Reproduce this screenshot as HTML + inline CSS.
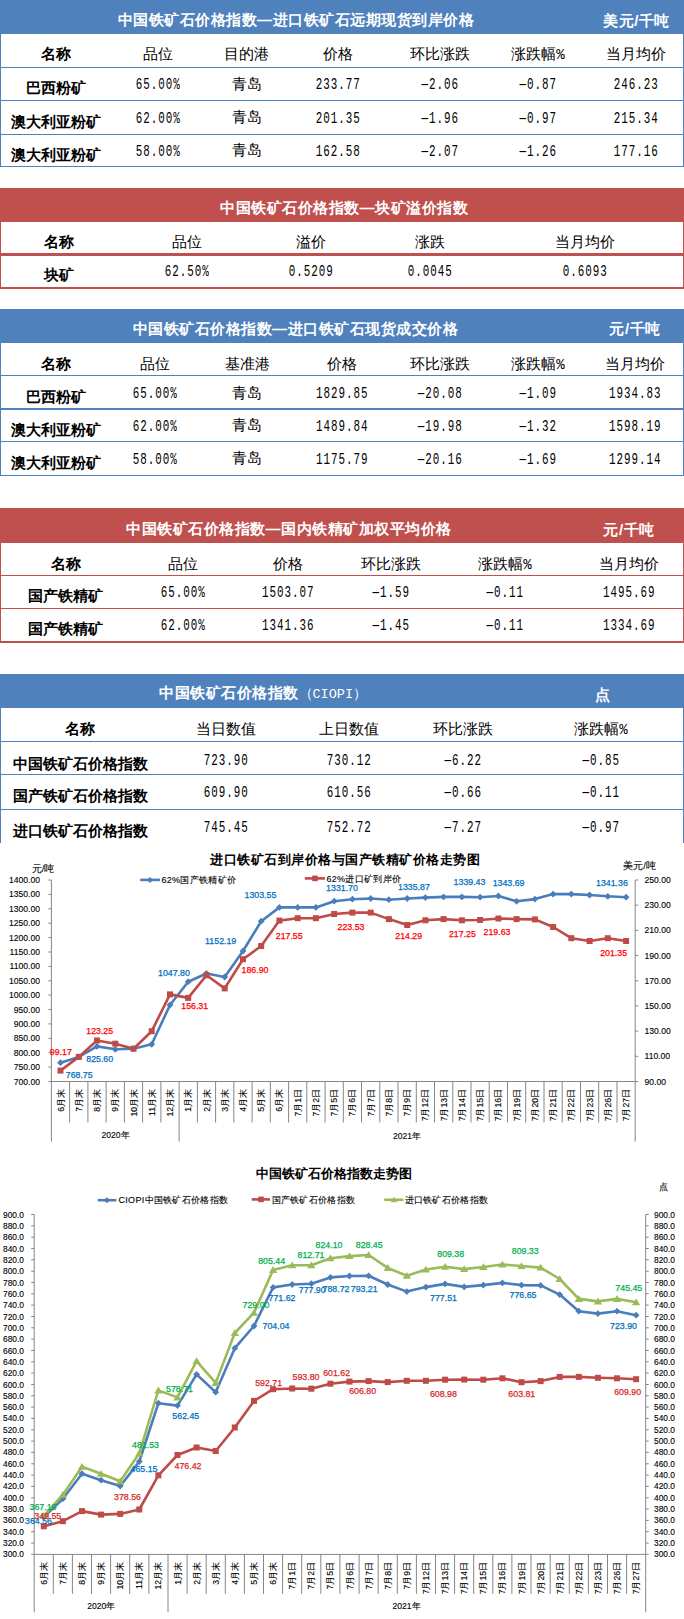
<!DOCTYPE html>
<html><head><meta charset="utf-8"><title>铁矿石价格指数</title>
<style>
html,body{margin:0;padding:0;background:#fff;}
body{width:684px;height:1619px;position:relative;overflow:hidden;font-family:"Liberation Sans",sans-serif;}
.r{position:absolute;}
.t{position:absolute;white-space:nowrap;transform:translate(-50%,-50%);line-height:1;color:#000;}
.tt{font-size:15px;letter-spacing:0.5px;font-weight:bold;color:#fff;font-family:"Liberation Sans",sans-serif;}
.nm{font-size:15px;font-weight:bold;font-family:"Liberation Serif",serif;}
.hd{font-size:15px;font-family:"Liberation Serif",serif;}
.pc{font-family:"Liberation Mono",monospace;font-size:14px;}
.ci{font-weight:normal;letter-spacing:0;}
.ci{font-family:"Liberation Mono",monospace;font-size:13.5px;}
.num{font-size:16.5px;letter-spacing:1.45px;text-indent:0.7px;transform:translate(-50%,-50%) scaleX(0.66);font-family:"Liberation Mono",monospace;}
svg{position:absolute;left:0;top:0;}
svg text{font-family:"Liberation Sans",sans-serif;}
</style></head><body>
<div class="r" style="left:0px;top:0px;width:684px;height:34px;background:#4f81bd"></div>
<div class="t tt" style="left:117.5px;top:19.0px;transform:translate(0,-50%)">中国铁矿石价格指数—进口铁矿石远期现货到岸价格</div>
<div class="t tt" style="left:636.5px;top:19.5px;">美元/千吨</div>
<div class="r" style="left:0px;top:67px;width:684px;height:1px;background:#4f81bd"></div>
<div class="r" style="left:0px;top:100px;width:684px;height:1px;background:#4f81bd"></div>
<div class="r" style="left:0px;top:134px;width:684px;height:1px;background:#4f81bd"></div>
<div class="r" style="left:0px;top:166px;width:684px;height:1px;background:#4f81bd"></div>
<div class="r" style="left:0px;top:34px;width:1px;height:133px;background:#4f81bd"></div>
<div class="r" style="left:683px;top:34px;width:1px;height:133px;background:#4f81bd"></div>
<div class="t nm" style="left:56px;top:54.0px;">名称</div>
<div class="t hd" style="left:157.5px;top:54.0px;">品位</div>
<div class="t hd" style="left:246.5px;top:54.0px;">目的港</div>
<div class="t hd" style="left:338px;top:54.0px;">价格</div>
<div class="t hd" style="left:440px;top:54.0px;">环比涨跌</div>
<div class="t hd" style="left:538px;top:54.0px;">涨跌幅<span class="pc">%</span></div>
<div class="t hd" style="left:635.5px;top:54.0px;">当月均价</div>
<div class="t nm" style="left:56px;top:88.0px;">巴西粉矿</div>
<div class="t num" style="left:157.5px;top:85.2px;">65.00%</div>
<div class="t hd" style="left:246.5px;top:83.5px;">青岛</div>
<div class="t num" style="left:338px;top:85.2px;">233.77</div>
<div class="t num" style="left:440px;top:85.2px;">—2.06</div>
<div class="t num" style="left:538px;top:85.2px;">—0.87</div>
<div class="t num" style="left:635.5px;top:85.2px;">246.23</div>
<div class="t nm" style="left:56px;top:121.5px;">澳大利亚粉矿</div>
<div class="t num" style="left:157.5px;top:118.7px;">62.00%</div>
<div class="t hd" style="left:246.5px;top:117.0px;">青岛</div>
<div class="t num" style="left:338px;top:118.7px;">201.35</div>
<div class="t num" style="left:440px;top:118.7px;">—1.96</div>
<div class="t num" style="left:538px;top:118.7px;">—0.97</div>
<div class="t num" style="left:635.5px;top:118.7px;">215.34</div>
<div class="t nm" style="left:56px;top:154.5px;">澳大利亚粉矿</div>
<div class="t num" style="left:157.5px;top:151.7px;">58.00%</div>
<div class="t hd" style="left:246.5px;top:150.0px;">青岛</div>
<div class="t num" style="left:338px;top:151.7px;">162.58</div>
<div class="t num" style="left:440px;top:151.7px;">—2.07</div>
<div class="t num" style="left:538px;top:151.7px;">—1.26</div>
<div class="t num" style="left:635.5px;top:151.7px;">177.16</div>
<div class="r" style="left:0px;top:188px;width:684px;height:33.5px;background:#c0504d"></div>
<div class="t tt" style="left:220px;top:206.75px;transform:translate(0,-50%)">中国铁矿石价格指数—块矿溢价指数</div>
<div class="r" style="left:0px;top:221px;width:684px;height:1px;background:#c0504d"></div>
<div class="r" style="left:0px;top:253px;width:684px;height:3px;background:#c0504d"></div>
<div class="r" style="left:0px;top:287px;width:684px;height:2px;background:#c0504d"></div>
<div class="r" style="left:0px;top:221.5px;width:1px;height:67.5px;background:#c0504d"></div>
<div class="r" style="left:683px;top:221.5px;width:1px;height:67.5px;background:#c0504d"></div>
<div class="t nm" style="left:59px;top:242.0px;">名称</div>
<div class="t hd" style="left:186.5px;top:242.0px;">品位</div>
<div class="t hd" style="left:311px;top:242.0px;">溢价</div>
<div class="t hd" style="left:429.5px;top:242.0px;">涨跌</div>
<div class="t hd" style="left:585px;top:242.0px;">当月均价</div>
<div class="t nm" style="left:59px;top:275.0px;">块矿</div>
<div class="t num" style="left:186.5px;top:272.2px;">62.50%</div>
<div class="t num" style="left:311px;top:272.2px;">0.5209</div>
<div class="t num" style="left:429.5px;top:272.2px;">0.0045</div>
<div class="t num" style="left:585px;top:272.2px;">0.6093</div>
<div class="r" style="left:0px;top:309px;width:684px;height:33.5px;background:#4f81bd"></div>
<div class="t tt" style="left:132.5px;top:327.75px;transform:translate(0,-50%)">中国铁矿石价格指数—进口铁矿石现货成交价格</div>
<div class="t tt" style="left:635px;top:328.25px;">元/千吨</div>
<div class="r" style="left:0px;top:375px;width:684px;height:1px;background:#4f81bd"></div>
<div class="r" style="left:0px;top:408px;width:684px;height:2px;background:#4f81bd"></div>
<div class="r" style="left:0px;top:441px;width:684px;height:1px;background:#4f81bd"></div>
<div class="r" style="left:0px;top:475px;width:684px;height:1px;background:#4f81bd"></div>
<div class="r" style="left:0px;top:342.5px;width:1px;height:133.5px;background:#4f81bd"></div>
<div class="r" style="left:683px;top:342.5px;width:1px;height:133.5px;background:#4f81bd"></div>
<div class="t nm" style="left:56px;top:364.0px;">名称</div>
<div class="t hd" style="left:154.5px;top:364.0px;">品位</div>
<div class="t hd" style="left:247px;top:364.0px;">基准港</div>
<div class="t hd" style="left:342px;top:364.0px;">价格</div>
<div class="t hd" style="left:440px;top:364.0px;">环比涨跌</div>
<div class="t hd" style="left:538px;top:364.0px;">涨跌幅<span class="pc">%</span></div>
<div class="t hd" style="left:634.5px;top:364.0px;">当月均价</div>
<div class="t nm" style="left:56px;top:397.0px;">巴西粉矿</div>
<div class="t num" style="left:154.5px;top:394.2px;">65.00%</div>
<div class="t hd" style="left:247px;top:392.5px;">青岛</div>
<div class="t num" style="left:342px;top:394.2px;">1829.85</div>
<div class="t num" style="left:440px;top:394.2px;">—20.08</div>
<div class="t num" style="left:538px;top:394.2px;">—1.09</div>
<div class="t num" style="left:634.5px;top:394.2px;">1934.83</div>
<div class="t nm" style="left:56px;top:429.5px;">澳大利亚粉矿</div>
<div class="t num" style="left:154.5px;top:426.7px;">62.00%</div>
<div class="t hd" style="left:247px;top:425.0px;">青岛</div>
<div class="t num" style="left:342px;top:426.7px;">1489.84</div>
<div class="t num" style="left:440px;top:426.7px;">—19.98</div>
<div class="t num" style="left:538px;top:426.7px;">—1.32</div>
<div class="t num" style="left:634.5px;top:426.7px;">1598.19</div>
<div class="t nm" style="left:56px;top:462.5px;">澳大利亚粉矿</div>
<div class="t num" style="left:154.5px;top:459.7px;">58.00%</div>
<div class="t hd" style="left:247px;top:458.0px;">青岛</div>
<div class="t num" style="left:342px;top:459.7px;">1175.79</div>
<div class="t num" style="left:440px;top:459.7px;">—20.16</div>
<div class="t num" style="left:538px;top:459.7px;">—1.69</div>
<div class="t num" style="left:634.5px;top:459.7px;">1299.14</div>
<div class="r" style="left:0px;top:508px;width:684px;height:34.5px;background:#c0504d"></div>
<div class="t tt" style="left:126px;top:528.45px;transform:translate(0,-50%)">中国铁矿石价格指数—国内铁精矿加权平均价格</div>
<div class="t tt" style="left:629px;top:528.95px;">元/千吨</div>
<div class="r" style="left:0px;top:575px;width:684px;height:1px;background:#c0504d"></div>
<div class="r" style="left:0px;top:608px;width:684px;height:1px;background:#c0504d"></div>
<div class="r" style="left:0px;top:641px;width:684px;height:1.5px;background:#c0504d"></div>
<div class="r" style="left:0px;top:542.5px;width:1px;height:99.5px;background:#c0504d"></div>
<div class="r" style="left:683px;top:542.5px;width:1px;height:99.5px;background:#c0504d"></div>
<div class="t nm" style="left:65.5px;top:564.0px;">名称</div>
<div class="t hd" style="left:182.5px;top:564.0px;">品位</div>
<div class="t hd" style="left:287.5px;top:564.0px;">价格</div>
<div class="t hd" style="left:391px;top:564.0px;">环比涨跌</div>
<div class="t hd" style="left:505px;top:564.0px;">涨跌幅<span class="pc">%</span></div>
<div class="t hd" style="left:628.5px;top:564.0px;">当月均价</div>
<div class="t nm" style="left:65.5px;top:596.0px;">国产铁精矿</div>
<div class="t num" style="left:182.5px;top:593.2px;">65.00%</div>
<div class="t num" style="left:287.5px;top:593.2px;">1503.07</div>
<div class="t num" style="left:391px;top:593.2px;">—1.59</div>
<div class="t num" style="left:505px;top:593.2px;">—0.11</div>
<div class="t num" style="left:628.5px;top:593.2px;">1495.69</div>
<div class="t nm" style="left:65.5px;top:628.5px;">国产铁精矿</div>
<div class="t num" style="left:182.5px;top:625.7px;">62.00%</div>
<div class="t num" style="left:287.5px;top:625.7px;">1341.36</div>
<div class="t num" style="left:391px;top:625.7px;">—1.45</div>
<div class="t num" style="left:505px;top:625.7px;">—0.11</div>
<div class="t num" style="left:628.5px;top:625.7px;">1334.69</div>
<div class="r" style="left:0px;top:674px;width:684px;height:34px;background:#4f81bd"></div>
<div class="t tt" style="left:159px;top:693.0px;transform:translate(0,-50%)">中国铁矿石价格指数<span class="ci">（CIOPI）</span></div>
<div class="t tt" style="left:602.7px;top:693.5px;">点</div>
<div class="r" style="left:0px;top:741px;width:684px;height:1px;background:#4f81bd"></div>
<div class="r" style="left:0px;top:774px;width:684px;height:1px;background:#4f81bd"></div>
<div class="r" style="left:0px;top:809px;width:684px;height:1px;background:#4f81bd"></div>
<div class="r" style="left:0px;top:708px;width:1px;height:135px;background:#4f81bd"></div>
<div class="r" style="left:683px;top:708px;width:1px;height:135px;background:#4f81bd"></div>
<div class="t nm" style="left:80px;top:729.0px;">名称</div>
<div class="t hd" style="left:225.5px;top:729.0px;">当日数值</div>
<div class="t hd" style="left:349px;top:729.0px;">上日数值</div>
<div class="t hd" style="left:462.5px;top:729.0px;">环比涨跌</div>
<div class="t hd" style="left:601px;top:729.0px;">涨跌幅<span class="pc">%</span></div>
<div class="t nm" style="left:80px;top:763.5px;">中国铁矿石价格指数</div>
<div class="t num" style="left:225.5px;top:760.7px;">723.90</div>
<div class="t num" style="left:349px;top:760.7px;">730.12</div>
<div class="t num" style="left:462.5px;top:760.7px;">—6.22</div>
<div class="t num" style="left:601px;top:760.7px;">—0.85</div>
<div class="t nm" style="left:80px;top:796.0px;">国产铁矿石价格指数</div>
<div class="t num" style="left:225.5px;top:793.2px;">609.90</div>
<div class="t num" style="left:349px;top:793.2px;">610.56</div>
<div class="t num" style="left:462.5px;top:793.2px;">—0.66</div>
<div class="t num" style="left:601px;top:793.2px;">—0.11</div>
<div class="t nm" style="left:80px;top:830.5px;">进口铁矿石价格指数</div>
<div class="t num" style="left:225.5px;top:827.7px;">745.45</div>
<div class="t num" style="left:349px;top:827.7px;">752.72</div>
<div class="t num" style="left:462.5px;top:827.7px;">—7.27</div>
<div class="t num" style="left:601px;top:827.7px;">—0.97</div>
<svg width="684" height="1619" viewBox="0 0 684 1619">
<path d="M51.4 880.0V1081.5M635.2 880.0V1081.5M51.4 1081.5H635.2" stroke="#868686" stroke-width="1" fill="none"/>
<path d="M48.4 1081.5H51.4M48.4 1067.1H51.4M48.4 1052.7H51.4M48.4 1038.3H51.4M48.4 1023.9H51.4M48.4 1009.5H51.4M48.4 995.1H51.4M48.4 980.8H51.4M48.4 966.4H51.4M48.4 952.0H51.4M48.4 937.6H51.4M48.4 923.2H51.4M48.4 908.8H51.4M48.4 894.4H51.4M48.4 880.0H51.4M635.2 1081.5H638.2M635.2 1056.3H638.2M635.2 1031.1H638.2M635.2 1005.9H638.2M635.2 980.8H638.2M635.2 955.6H638.2M635.2 930.4H638.2M635.2 905.2H638.2M635.2 880.0H638.2M51.4 1081.5V1141.6M69.6 1081.5V1122.5M87.9 1081.5V1122.5M106.1 1081.5V1122.5M124.4 1081.5V1122.5M142.6 1081.5V1122.5M160.9 1081.5V1122.5M179.1 1081.5V1141.6M197.4 1081.5V1122.5M215.6 1081.5V1122.5M233.8 1081.5V1122.5M252.1 1081.5V1122.5M270.3 1081.5V1122.5M288.6 1081.5V1122.5M306.8 1081.5V1122.5M325.1 1081.5V1122.5M343.3 1081.5V1122.5M361.5 1081.5V1122.5M379.8 1081.5V1122.5M398.0 1081.5V1122.5M416.3 1081.5V1122.5M434.5 1081.5V1122.5M452.8 1081.5V1122.5M471.0 1081.5V1122.5M489.2 1081.5V1122.5M507.5 1081.5V1122.5M525.7 1081.5V1122.5M544.0 1081.5V1122.5M562.2 1081.5V1122.5M580.5 1081.5V1122.5M598.7 1081.5V1122.5M617.0 1081.5V1122.5M635.2 1081.5V1141.6" stroke="#868686" stroke-width="1" fill="none"/>
<text x="40.0" y="1084.5" font-size="8.6" fill="#000" text-anchor="end" font-weight="normal"  stroke="#000" stroke-width="0.12">700.00</text>
<text x="40.0" y="1070.1" font-size="8.6" fill="#000" text-anchor="end" font-weight="normal"  stroke="#000" stroke-width="0.12">750.00</text>
<text x="40.0" y="1055.7" font-size="8.6" fill="#000" text-anchor="end" font-weight="normal"  stroke="#000" stroke-width="0.12">800.00</text>
<text x="40.0" y="1041.3" font-size="8.6" fill="#000" text-anchor="end" font-weight="normal"  stroke="#000" stroke-width="0.12">850.00</text>
<text x="40.0" y="1026.9" font-size="8.6" fill="#000" text-anchor="end" font-weight="normal"  stroke="#000" stroke-width="0.12">900.00</text>
<text x="40.0" y="1012.5" font-size="8.6" fill="#000" text-anchor="end" font-weight="normal"  stroke="#000" stroke-width="0.12">950.00</text>
<text x="40.0" y="998.1" font-size="8.6" fill="#000" text-anchor="end" font-weight="normal"  stroke="#000" stroke-width="0.12">1000.00</text>
<text x="40.0" y="983.8" font-size="8.6" fill="#000" text-anchor="end" font-weight="normal"  stroke="#000" stroke-width="0.12">1050.00</text>
<text x="40.0" y="969.4" font-size="8.6" fill="#000" text-anchor="end" font-weight="normal"  stroke="#000" stroke-width="0.12">1100.00</text>
<text x="40.0" y="955.0" font-size="8.6" fill="#000" text-anchor="end" font-weight="normal"  stroke="#000" stroke-width="0.12">1150.00</text>
<text x="40.0" y="940.6" font-size="8.6" fill="#000" text-anchor="end" font-weight="normal"  stroke="#000" stroke-width="0.12">1200.00</text>
<text x="40.0" y="926.2" font-size="8.6" fill="#000" text-anchor="end" font-weight="normal"  stroke="#000" stroke-width="0.12">1250.00</text>
<text x="40.0" y="911.8" font-size="8.6" fill="#000" text-anchor="end" font-weight="normal"  stroke="#000" stroke-width="0.12">1300.00</text>
<text x="40.0" y="897.4" font-size="8.6" fill="#000" text-anchor="end" font-weight="normal"  stroke="#000" stroke-width="0.12">1350.00</text>
<text x="40.0" y="883.0" font-size="8.6" fill="#000" text-anchor="end" font-weight="normal"  stroke="#000" stroke-width="0.12">1400.00</text>
<text x="644.5" y="1084.5" font-size="8.6" fill="#000" text-anchor="start" font-weight="normal"  stroke="#000" stroke-width="0.12">90.00</text>
<text x="644.5" y="1059.3" font-size="8.6" fill="#000" text-anchor="start" font-weight="normal"  stroke="#000" stroke-width="0.12">110.00</text>
<text x="644.5" y="1034.1" font-size="8.6" fill="#000" text-anchor="start" font-weight="normal"  stroke="#000" stroke-width="0.12">130.00</text>
<text x="644.5" y="1008.9" font-size="8.6" fill="#000" text-anchor="start" font-weight="normal"  stroke="#000" stroke-width="0.12">150.00</text>
<text x="644.5" y="983.8" font-size="8.6" fill="#000" text-anchor="start" font-weight="normal"  stroke="#000" stroke-width="0.12">170.00</text>
<text x="644.5" y="958.6" font-size="8.6" fill="#000" text-anchor="start" font-weight="normal"  stroke="#000" stroke-width="0.12">190.00</text>
<text x="644.5" y="933.4" font-size="8.6" fill="#000" text-anchor="start" font-weight="normal"  stroke="#000" stroke-width="0.12">210.00</text>
<text x="644.5" y="908.2" font-size="8.6" fill="#000" text-anchor="start" font-weight="normal"  stroke="#000" stroke-width="0.12">230.00</text>
<text x="644.5" y="883.0" font-size="8.6" fill="#000" text-anchor="start" font-weight="normal"  stroke="#000" stroke-width="0.12">250.00</text>
<text transform="translate(63.5,1089.0) rotate(-90)" font-size="8.6" text-anchor="end" stroke="#000" stroke-width="0.12">6月末</text>
<text transform="translate(81.8,1089.0) rotate(-90)" font-size="8.6" text-anchor="end" stroke="#000" stroke-width="0.12">7月末</text>
<text transform="translate(100.0,1089.0) rotate(-90)" font-size="8.6" text-anchor="end" stroke="#000" stroke-width="0.12">8月末</text>
<text transform="translate(118.3,1089.0) rotate(-90)" font-size="8.6" text-anchor="end" stroke="#000" stroke-width="0.12">9月末</text>
<text transform="translate(136.5,1089.0) rotate(-90)" font-size="8.6" text-anchor="end" stroke="#000" stroke-width="0.12">10月末</text>
<text transform="translate(154.7,1089.0) rotate(-90)" font-size="8.6" text-anchor="end" stroke="#000" stroke-width="0.12">11月末</text>
<text transform="translate(173.0,1089.0) rotate(-90)" font-size="8.6" text-anchor="end" stroke="#000" stroke-width="0.12">12月末</text>
<text transform="translate(191.2,1089.0) rotate(-90)" font-size="8.6" text-anchor="end" stroke="#000" stroke-width="0.12">1月末</text>
<text transform="translate(209.5,1089.0) rotate(-90)" font-size="8.6" text-anchor="end" stroke="#000" stroke-width="0.12">2月末</text>
<text transform="translate(227.7,1089.0) rotate(-90)" font-size="8.6" text-anchor="end" stroke="#000" stroke-width="0.12">3月末</text>
<text transform="translate(246.0,1089.0) rotate(-90)" font-size="8.6" text-anchor="end" stroke="#000" stroke-width="0.12">4月末</text>
<text transform="translate(264.2,1089.0) rotate(-90)" font-size="8.6" text-anchor="end" stroke="#000" stroke-width="0.12">5月末</text>
<text transform="translate(282.4,1089.0) rotate(-90)" font-size="8.6" text-anchor="end" stroke="#000" stroke-width="0.12">6月末</text>
<text transform="translate(300.7,1089.0) rotate(-90)" font-size="8.6" text-anchor="end" stroke="#000" stroke-width="0.12">7月1日</text>
<text transform="translate(318.9,1089.0) rotate(-90)" font-size="8.6" text-anchor="end" stroke="#000" stroke-width="0.12">7月2日</text>
<text transform="translate(337.2,1089.0) rotate(-90)" font-size="8.6" text-anchor="end" stroke="#000" stroke-width="0.12">7月5日</text>
<text transform="translate(355.4,1089.0) rotate(-90)" font-size="8.6" text-anchor="end" stroke="#000" stroke-width="0.12">7月6日</text>
<text transform="translate(373.7,1089.0) rotate(-90)" font-size="8.6" text-anchor="end" stroke="#000" stroke-width="0.12">7月7日</text>
<text transform="translate(391.9,1089.0) rotate(-90)" font-size="8.6" text-anchor="end" stroke="#000" stroke-width="0.12">7月8日</text>
<text transform="translate(410.2,1089.0) rotate(-90)" font-size="8.6" text-anchor="end" stroke="#000" stroke-width="0.12">7月9日</text>
<text transform="translate(428.4,1089.0) rotate(-90)" font-size="8.6" text-anchor="end" stroke="#000" stroke-width="0.12">7月12日</text>
<text transform="translate(446.6,1089.0) rotate(-90)" font-size="8.6" text-anchor="end" stroke="#000" stroke-width="0.12">7月13日</text>
<text transform="translate(464.9,1089.0) rotate(-90)" font-size="8.6" text-anchor="end" stroke="#000" stroke-width="0.12">7月14日</text>
<text transform="translate(483.1,1089.0) rotate(-90)" font-size="8.6" text-anchor="end" stroke="#000" stroke-width="0.12">7月15日</text>
<text transform="translate(501.4,1089.0) rotate(-90)" font-size="8.6" text-anchor="end" stroke="#000" stroke-width="0.12">7月16日</text>
<text transform="translate(519.6,1089.0) rotate(-90)" font-size="8.6" text-anchor="end" stroke="#000" stroke-width="0.12">7月19日</text>
<text transform="translate(537.9,1089.0) rotate(-90)" font-size="8.6" text-anchor="end" stroke="#000" stroke-width="0.12">7月20日</text>
<text transform="translate(556.1,1089.0) rotate(-90)" font-size="8.6" text-anchor="end" stroke="#000" stroke-width="0.12">7月21日</text>
<text transform="translate(574.3,1089.0) rotate(-90)" font-size="8.6" text-anchor="end" stroke="#000" stroke-width="0.12">7月22日</text>
<text transform="translate(592.6,1089.0) rotate(-90)" font-size="8.6" text-anchor="end" stroke="#000" stroke-width="0.12">7月23日</text>
<text transform="translate(610.8,1089.0) rotate(-90)" font-size="8.6" text-anchor="end" stroke="#000" stroke-width="0.12">7月26日</text>
<text transform="translate(629.1,1089.0) rotate(-90)" font-size="8.6" text-anchor="end" stroke="#000" stroke-width="0.12">7月27日</text>
<text x="115.5" y="1138.0" font-size="8.6" fill="#000" text-anchor="middle" font-weight="normal"  stroke="#000" stroke-width="0.12">2020年</text>
<text x="407.0" y="1139.0" font-size="8.6" fill="#000" text-anchor="middle" font-weight="normal"  stroke="#000" stroke-width="0.12">2021年</text>
<path d="M60.5 1062.7L78.8 1056.9L97.0 1046.4L115.3 1049.3L133.5 1048.7L151.7 1044.3L170.0 1005.0L188.2 981.7L206.5 973.5L224.7 977.0L243.0 951.0L261.2 921.2L279.4 907.4L297.7 907.4L315.9 907.4L334.2 901.2L352.4 899.2L370.7 898.5L388.9 899.7L407.2 898.5L425.4 897.6L443.6 896.9L461.9 896.9L480.1 897.2L498.4 896.0L516.6 901.3L534.9 899.1L553.1 894.1L571.3 894.1L589.6 895.0L607.8 896.3L626.1 897.2" stroke="#4a7ebb" stroke-width="2.6" fill="none" stroke-linejoin="round"/>
<path d="M57.1 1062.7L60.5 1059.3L63.9 1062.7L60.5 1066.1Z" fill="#4a7ebb"/><path d="M75.4 1056.9L78.8 1053.5L82.2 1056.9L78.8 1060.3Z" fill="#4a7ebb"/><path d="M93.6 1046.4L97.0 1043.0L100.4 1046.4L97.0 1049.8Z" fill="#4a7ebb"/><path d="M111.9 1049.3L115.3 1045.9L118.7 1049.3L115.3 1052.7Z" fill="#4a7ebb"/><path d="M130.1 1048.7L133.5 1045.3L136.9 1048.7L133.5 1052.1Z" fill="#4a7ebb"/><path d="M148.3 1044.3L151.7 1040.9L155.1 1044.3L151.7 1047.7Z" fill="#4a7ebb"/><path d="M166.6 1005.0L170.0 1001.6L173.4 1005.0L170.0 1008.4Z" fill="#4a7ebb"/><path d="M184.8 981.7L188.2 978.3L191.6 981.7L188.2 985.1Z" fill="#4a7ebb"/><path d="M203.1 973.5L206.5 970.1L209.9 973.5L206.5 976.9Z" fill="#4a7ebb"/><path d="M221.3 977.0L224.7 973.6L228.1 977.0L224.7 980.4Z" fill="#4a7ebb"/><path d="M239.6 951.0L243.0 947.6L246.4 951.0L243.0 954.4Z" fill="#4a7ebb"/><path d="M257.8 921.2L261.2 917.8L264.6 921.2L261.2 924.6Z" fill="#4a7ebb"/><path d="M276.0 907.4L279.4 904.0L282.8 907.4L279.4 910.8Z" fill="#4a7ebb"/><path d="M294.3 907.4L297.7 904.0L301.1 907.4L297.7 910.8Z" fill="#4a7ebb"/><path d="M312.5 907.4L315.9 904.0L319.3 907.4L315.9 910.8Z" fill="#4a7ebb"/><path d="M330.8 901.2L334.2 897.8L337.6 901.2L334.2 904.6Z" fill="#4a7ebb"/><path d="M349.0 899.2L352.4 895.8L355.8 899.2L352.4 902.6Z" fill="#4a7ebb"/><path d="M367.3 898.5L370.7 895.1L374.1 898.5L370.7 901.9Z" fill="#4a7ebb"/><path d="M385.5 899.7L388.9 896.3L392.3 899.7L388.9 903.1Z" fill="#4a7ebb"/><path d="M403.8 898.5L407.2 895.1L410.6 898.5L407.2 901.9Z" fill="#4a7ebb"/><path d="M422.0 897.6L425.4 894.2L428.8 897.6L425.4 901.0Z" fill="#4a7ebb"/><path d="M440.2 896.9L443.6 893.5L447.0 896.9L443.6 900.3Z" fill="#4a7ebb"/><path d="M458.5 896.9L461.9 893.5L465.3 896.9L461.9 900.3Z" fill="#4a7ebb"/><path d="M476.7 897.2L480.1 893.8L483.5 897.2L480.1 900.6Z" fill="#4a7ebb"/><path d="M495.0 896.0L498.4 892.6L501.8 896.0L498.4 899.4Z" fill="#4a7ebb"/><path d="M513.2 901.3L516.6 897.9L520.0 901.3L516.6 904.7Z" fill="#4a7ebb"/><path d="M531.5 899.1L534.9 895.7L538.3 899.1L534.9 902.5Z" fill="#4a7ebb"/><path d="M549.7 894.1L553.1 890.7L556.5 894.1L553.1 897.5Z" fill="#4a7ebb"/><path d="M567.9 894.1L571.3 890.7L574.7 894.1L571.3 897.5Z" fill="#4a7ebb"/><path d="M586.2 895.0L589.6 891.6L593.0 895.0L589.6 898.4Z" fill="#4a7ebb"/><path d="M604.4 896.3L607.8 892.9L611.2 896.3L607.8 899.7Z" fill="#4a7ebb"/><path d="M622.7 897.2L626.1 893.8L629.5 897.2L626.1 900.6Z" fill="#4a7ebb"/>
<path d="M60.5 1070.6L78.8 1056.9L97.0 1040.5L115.3 1043.7L133.5 1048.7L151.7 1031.2L170.0 994.4L188.2 997.9L206.5 975.3L224.7 988.4L243.0 959.2L261.2 946.0L279.4 920.6L297.7 918.2L315.9 918.2L334.2 914.0L352.4 912.6L370.7 912.6L388.9 919.1L407.2 925.0L425.4 920.3L443.6 919.1L461.9 920.3L480.1 920.0L498.4 918.5L516.6 919.1L534.9 919.4L553.1 927.0L571.3 938.2L589.6 941.0L607.8 938.2L626.1 941.0" stroke="#be4b48" stroke-width="2.6" fill="none" stroke-linejoin="round"/>
<rect x="57.5" y="1067.6" width="6.0" height="6.0" fill="#be4b48"/><rect x="75.8" y="1053.9" width="6.0" height="6.0" fill="#be4b48"/><rect x="94.0" y="1037.5" width="6.0" height="6.0" fill="#be4b48"/><rect x="112.3" y="1040.7" width="6.0" height="6.0" fill="#be4b48"/><rect x="130.5" y="1045.7" width="6.0" height="6.0" fill="#be4b48"/><rect x="148.7" y="1028.2" width="6.0" height="6.0" fill="#be4b48"/><rect x="167.0" y="991.4" width="6.0" height="6.0" fill="#be4b48"/><rect x="185.2" y="994.9" width="6.0" height="6.0" fill="#be4b48"/><rect x="203.5" y="972.3" width="6.0" height="6.0" fill="#be4b48"/><rect x="221.7" y="985.4" width="6.0" height="6.0" fill="#be4b48"/><rect x="240.0" y="956.2" width="6.0" height="6.0" fill="#be4b48"/><rect x="258.2" y="943.0" width="6.0" height="6.0" fill="#be4b48"/><rect x="276.4" y="917.6" width="6.0" height="6.0" fill="#be4b48"/><rect x="294.7" y="915.2" width="6.0" height="6.0" fill="#be4b48"/><rect x="312.9" y="915.2" width="6.0" height="6.0" fill="#be4b48"/><rect x="331.2" y="911.0" width="6.0" height="6.0" fill="#be4b48"/><rect x="349.4" y="909.6" width="6.0" height="6.0" fill="#be4b48"/><rect x="367.7" y="909.6" width="6.0" height="6.0" fill="#be4b48"/><rect x="385.9" y="916.1" width="6.0" height="6.0" fill="#be4b48"/><rect x="404.2" y="922.0" width="6.0" height="6.0" fill="#be4b48"/><rect x="422.4" y="917.3" width="6.0" height="6.0" fill="#be4b48"/><rect x="440.6" y="916.1" width="6.0" height="6.0" fill="#be4b48"/><rect x="458.9" y="917.3" width="6.0" height="6.0" fill="#be4b48"/><rect x="477.1" y="917.0" width="6.0" height="6.0" fill="#be4b48"/><rect x="495.4" y="915.5" width="6.0" height="6.0" fill="#be4b48"/><rect x="513.6" y="916.1" width="6.0" height="6.0" fill="#be4b48"/><rect x="531.9" y="916.4" width="6.0" height="6.0" fill="#be4b48"/><rect x="550.1" y="924.0" width="6.0" height="6.0" fill="#be4b48"/><rect x="568.3" y="935.2" width="6.0" height="6.0" fill="#be4b48"/><rect x="586.6" y="938.0" width="6.0" height="6.0" fill="#be4b48"/><rect x="604.8" y="935.2" width="6.0" height="6.0" fill="#be4b48"/><rect x="623.1" y="938.0" width="6.0" height="6.0" fill="#be4b48"/>
<text x="79.2" y="1077.6" font-size="8.8" fill="#0070c0" text-anchor="middle" font-weight="normal" stroke="#0070c0" stroke-width="0.25">768.75</text>
<text x="99.7" y="1062.1" font-size="8.8" fill="#0070c0" text-anchor="middle" font-weight="normal" stroke="#0070c0" stroke-width="0.25">825.60</text>
<text x="173.9" y="975.5" font-size="8.8" fill="#0070c0" text-anchor="middle" font-weight="normal" stroke="#0070c0" stroke-width="0.25">1047.80</text>
<text x="220.7" y="944.2" font-size="8.8" fill="#0070c0" text-anchor="middle" font-weight="normal" stroke="#0070c0" stroke-width="0.25">1152.19</text>
<text x="260.4" y="898.3" font-size="8.8" fill="#0070c0" text-anchor="middle" font-weight="normal" stroke="#0070c0" stroke-width="0.25">1303.55</text>
<text x="342.0" y="891.3" font-size="8.8" fill="#0070c0" text-anchor="middle" font-weight="normal" stroke="#0070c0" stroke-width="0.25">1331.70</text>
<text x="413.9" y="890.0" font-size="8.8" fill="#0070c0" text-anchor="middle" font-weight="normal" stroke="#0070c0" stroke-width="0.25">1335.87</text>
<text x="469.5" y="885.1" font-size="8.8" fill="#0070c0" text-anchor="middle" font-weight="normal" stroke="#0070c0" stroke-width="0.25">1339.43</text>
<text x="508.6" y="886.1" font-size="8.8" fill="#0070c0" text-anchor="middle" font-weight="normal" stroke="#0070c0" stroke-width="0.25">1343.69</text>
<text x="611.9" y="886.1" font-size="8.8" fill="#0070c0" text-anchor="middle" font-weight="normal" stroke="#0070c0" stroke-width="0.25">1341.36</text>
<text x="60.8" y="1055.3" font-size="8.8" fill="#ff0000" text-anchor="middle" font-weight="normal" stroke="#ff0000" stroke-width="0.25">99.17</text>
<text x="99.7" y="1033.8" font-size="8.8" fill="#ff0000" text-anchor="middle" font-weight="normal" stroke="#ff0000" stroke-width="0.25">123.25</text>
<text x="194.7" y="1008.9" font-size="8.8" fill="#ff0000" text-anchor="middle" font-weight="normal" stroke="#ff0000" stroke-width="0.25">156.31</text>
<text x="255.0" y="972.9" font-size="8.8" fill="#ff0000" text-anchor="middle" font-weight="normal" stroke="#ff0000" stroke-width="0.25">186.90</text>
<text x="289.2" y="939.3" font-size="8.8" fill="#ff0000" text-anchor="middle" font-weight="normal" stroke="#ff0000" stroke-width="0.25">217.55</text>
<text x="351.0" y="929.9" font-size="8.8" fill="#ff0000" text-anchor="middle" font-weight="normal" stroke="#ff0000" stroke-width="0.25">223.53</text>
<text x="408.7" y="939.3" font-size="8.8" fill="#ff0000" text-anchor="middle" font-weight="normal" stroke="#ff0000" stroke-width="0.25">214.29</text>
<text x="462.4" y="936.9" font-size="8.8" fill="#ff0000" text-anchor="middle" font-weight="normal" stroke="#ff0000" stroke-width="0.25">217.25</text>
<text x="497.0" y="935.2" font-size="8.8" fill="#ff0000" text-anchor="middle" font-weight="normal" stroke="#ff0000" stroke-width="0.25">219.63</text>
<text x="613.6" y="955.5" font-size="8.8" fill="#ff0000" text-anchor="middle" font-weight="normal" stroke="#ff0000" stroke-width="0.25">201.35</text>
<text x="345.0" y="863.5" font-size="13" fill="#000" text-anchor="middle" font-weight="bold" letter-spacing="0.5">进口铁矿石到岸价格与国产铁精矿价格走势图</text>
<text x="43.0" y="872.0" font-size="9.5" fill="#000" text-anchor="middle" font-weight="normal"  stroke="#000" stroke-width="0.12">元/吨</text>
<text x="639.5" y="869.0" font-size="9.5" fill="#000" text-anchor="middle" font-weight="normal"  stroke="#000" stroke-width="0.12">美元/吨</text>
<path d="M140.2 879.9H160" stroke="#4a7ebb" stroke-width="2.6"/><path d="M147.0 879.9L150.0 876.9L153.0 879.9L150.0 882.9Z" fill="#4a7ebb"/>
<text x="161.5" y="883.0" font-size="9" fill="#000" text-anchor="start" font-weight="normal" letter-spacing="0.3" stroke="#000" stroke-width="0.12">62%国产铁精矿价</text>
<path d="M304.8 878.4H325" stroke="#be4b48" stroke-width="2.6"/><rect x="312.2" y="875.6" width="5.6" height="5.6" fill="#be4b48"/>
<text x="326.5" y="881.5" font-size="9" fill="#000" text-anchor="start" font-weight="normal" letter-spacing="0.3" stroke="#000" stroke-width="0.12">62%进口矿到岸价</text>
<path d="M34.2 1214.5V1554.4M645.7 1214.5V1554.4M34.2 1554.4H645.7" stroke="#868686" stroke-width="1" fill="none"/>
<path d="M31.2 1554.4H34.2M31.2 1543.1H34.2M31.2 1531.7H34.2M31.2 1520.4H34.2M31.2 1509.1H34.2M31.2 1497.8H34.2M31.2 1486.4H34.2M31.2 1475.1H34.2M31.2 1463.8H34.2M31.2 1452.4H34.2M31.2 1441.1H34.2M31.2 1429.8H34.2M31.2 1418.4H34.2M31.2 1407.1H34.2M31.2 1395.8H34.2M31.2 1384.5H34.2M31.2 1373.1H34.2M31.2 1361.8H34.2M31.2 1350.5H34.2M31.2 1339.1H34.2M31.2 1327.8H34.2M31.2 1316.5H34.2M31.2 1305.1H34.2M31.2 1293.8H34.2M31.2 1282.5H34.2M31.2 1271.2H34.2M31.2 1259.8H34.2M31.2 1248.5H34.2M31.2 1237.2H34.2M31.2 1225.8H34.2M31.2 1214.5H34.2M645.7 1554.4H648.7M645.7 1543.1H648.7M645.7 1531.7H648.7M645.7 1520.4H648.7M645.7 1509.1H648.7M645.7 1497.8H648.7M645.7 1486.4H648.7M645.7 1475.1H648.7M645.7 1463.8H648.7M645.7 1452.4H648.7M645.7 1441.1H648.7M645.7 1429.8H648.7M645.7 1418.4H648.7M645.7 1407.1H648.7M645.7 1395.8H648.7M645.7 1384.5H648.7M645.7 1373.1H648.7M645.7 1361.8H648.7M645.7 1350.5H648.7M645.7 1339.1H648.7M645.7 1327.8H648.7M645.7 1316.5H648.7M645.7 1305.1H648.7M645.7 1293.8H648.7M645.7 1282.5H648.7M645.7 1271.2H648.7M645.7 1259.8H648.7M645.7 1248.5H648.7M645.7 1237.2H648.7M645.7 1225.8H648.7M645.7 1214.5H648.7M34.2 1554.4V1612.3M53.3 1554.4V1593.9M72.4 1554.4V1593.9M91.5 1554.4V1593.9M110.6 1554.4V1593.9M129.7 1554.4V1593.9M148.9 1554.4V1593.9M168.0 1554.4V1612.3M187.1 1554.4V1593.9M206.2 1554.4V1593.9M225.3 1554.4V1593.9M244.4 1554.4V1593.9M263.5 1554.4V1593.9M282.6 1554.4V1593.9M301.7 1554.4V1593.9M320.8 1554.4V1593.9M339.9 1554.4V1593.9M359.1 1554.4V1593.9M378.2 1554.4V1593.9M397.3 1554.4V1593.9M416.4 1554.4V1593.9M435.5 1554.4V1593.9M454.6 1554.4V1593.9M473.7 1554.4V1593.9M492.8 1554.4V1593.9M511.9 1554.4V1593.9M531.0 1554.4V1593.9M550.2 1554.4V1593.9M569.3 1554.4V1593.9M588.4 1554.4V1593.9M607.5 1554.4V1593.9M626.6 1554.4V1593.9M645.7 1554.4V1612.3" stroke="#868686" stroke-width="1" fill="none"/>
<text x="24.0" y="1557.4" font-size="8.4" fill="#000" text-anchor="end" font-weight="normal"  stroke="#000" stroke-width="0.12">300.0</text>
<text x="24.0" y="1546.1" font-size="8.4" fill="#000" text-anchor="end" font-weight="normal"  stroke="#000" stroke-width="0.12">320.0</text>
<text x="24.0" y="1534.7" font-size="8.4" fill="#000" text-anchor="end" font-weight="normal"  stroke="#000" stroke-width="0.12">340.0</text>
<text x="24.0" y="1523.4" font-size="8.4" fill="#000" text-anchor="end" font-weight="normal"  stroke="#000" stroke-width="0.12">360.0</text>
<text x="24.0" y="1512.1" font-size="8.4" fill="#000" text-anchor="end" font-weight="normal"  stroke="#000" stroke-width="0.12">380.0</text>
<text x="24.0" y="1500.8" font-size="8.4" fill="#000" text-anchor="end" font-weight="normal"  stroke="#000" stroke-width="0.12">400.0</text>
<text x="24.0" y="1489.4" font-size="8.4" fill="#000" text-anchor="end" font-weight="normal"  stroke="#000" stroke-width="0.12">420.0</text>
<text x="24.0" y="1478.1" font-size="8.4" fill="#000" text-anchor="end" font-weight="normal"  stroke="#000" stroke-width="0.12">440.0</text>
<text x="24.0" y="1466.8" font-size="8.4" fill="#000" text-anchor="end" font-weight="normal"  stroke="#000" stroke-width="0.12">460.0</text>
<text x="24.0" y="1455.4" font-size="8.4" fill="#000" text-anchor="end" font-weight="normal"  stroke="#000" stroke-width="0.12">480.0</text>
<text x="24.0" y="1444.1" font-size="8.4" fill="#000" text-anchor="end" font-weight="normal"  stroke="#000" stroke-width="0.12">500.0</text>
<text x="24.0" y="1432.8" font-size="8.4" fill="#000" text-anchor="end" font-weight="normal"  stroke="#000" stroke-width="0.12">520.0</text>
<text x="24.0" y="1421.4" font-size="8.4" fill="#000" text-anchor="end" font-weight="normal"  stroke="#000" stroke-width="0.12">540.0</text>
<text x="24.0" y="1410.1" font-size="8.4" fill="#000" text-anchor="end" font-weight="normal"  stroke="#000" stroke-width="0.12">560.0</text>
<text x="24.0" y="1398.8" font-size="8.4" fill="#000" text-anchor="end" font-weight="normal"  stroke="#000" stroke-width="0.12">580.0</text>
<text x="24.0" y="1387.5" font-size="8.4" fill="#000" text-anchor="end" font-weight="normal"  stroke="#000" stroke-width="0.12">600.0</text>
<text x="24.0" y="1376.1" font-size="8.4" fill="#000" text-anchor="end" font-weight="normal"  stroke="#000" stroke-width="0.12">620.0</text>
<text x="24.0" y="1364.8" font-size="8.4" fill="#000" text-anchor="end" font-weight="normal"  stroke="#000" stroke-width="0.12">640.0</text>
<text x="24.0" y="1353.5" font-size="8.4" fill="#000" text-anchor="end" font-weight="normal"  stroke="#000" stroke-width="0.12">660.0</text>
<text x="24.0" y="1342.1" font-size="8.4" fill="#000" text-anchor="end" font-weight="normal"  stroke="#000" stroke-width="0.12">680.0</text>
<text x="24.0" y="1330.8" font-size="8.4" fill="#000" text-anchor="end" font-weight="normal"  stroke="#000" stroke-width="0.12">700.0</text>
<text x="24.0" y="1319.5" font-size="8.4" fill="#000" text-anchor="end" font-weight="normal"  stroke="#000" stroke-width="0.12">720.0</text>
<text x="24.0" y="1308.1" font-size="8.4" fill="#000" text-anchor="end" font-weight="normal"  stroke="#000" stroke-width="0.12">740.0</text>
<text x="24.0" y="1296.8" font-size="8.4" fill="#000" text-anchor="end" font-weight="normal"  stroke="#000" stroke-width="0.12">760.0</text>
<text x="24.0" y="1285.5" font-size="8.4" fill="#000" text-anchor="end" font-weight="normal"  stroke="#000" stroke-width="0.12">780.0</text>
<text x="24.0" y="1274.2" font-size="8.4" fill="#000" text-anchor="end" font-weight="normal"  stroke="#000" stroke-width="0.12">800.0</text>
<text x="24.0" y="1262.8" font-size="8.4" fill="#000" text-anchor="end" font-weight="normal"  stroke="#000" stroke-width="0.12">820.0</text>
<text x="24.0" y="1251.5" font-size="8.4" fill="#000" text-anchor="end" font-weight="normal"  stroke="#000" stroke-width="0.12">840.0</text>
<text x="24.0" y="1240.2" font-size="8.4" fill="#000" text-anchor="end" font-weight="normal"  stroke="#000" stroke-width="0.12">860.0</text>
<text x="24.0" y="1228.8" font-size="8.4" fill="#000" text-anchor="end" font-weight="normal"  stroke="#000" stroke-width="0.12">880.0</text>
<text x="24.0" y="1217.5" font-size="8.4" fill="#000" text-anchor="end" font-weight="normal"  stroke="#000" stroke-width="0.12">900.0</text>
<text x="654.0" y="1557.4" font-size="8.4" fill="#000" text-anchor="start" font-weight="normal"  stroke="#000" stroke-width="0.12">300.0</text>
<text x="654.0" y="1546.1" font-size="8.4" fill="#000" text-anchor="start" font-weight="normal"  stroke="#000" stroke-width="0.12">320.0</text>
<text x="654.0" y="1534.7" font-size="8.4" fill="#000" text-anchor="start" font-weight="normal"  stroke="#000" stroke-width="0.12">340.0</text>
<text x="654.0" y="1523.4" font-size="8.4" fill="#000" text-anchor="start" font-weight="normal"  stroke="#000" stroke-width="0.12">360.0</text>
<text x="654.0" y="1512.1" font-size="8.4" fill="#000" text-anchor="start" font-weight="normal"  stroke="#000" stroke-width="0.12">380.0</text>
<text x="654.0" y="1500.8" font-size="8.4" fill="#000" text-anchor="start" font-weight="normal"  stroke="#000" stroke-width="0.12">400.0</text>
<text x="654.0" y="1489.4" font-size="8.4" fill="#000" text-anchor="start" font-weight="normal"  stroke="#000" stroke-width="0.12">420.0</text>
<text x="654.0" y="1478.1" font-size="8.4" fill="#000" text-anchor="start" font-weight="normal"  stroke="#000" stroke-width="0.12">440.0</text>
<text x="654.0" y="1466.8" font-size="8.4" fill="#000" text-anchor="start" font-weight="normal"  stroke="#000" stroke-width="0.12">460.0</text>
<text x="654.0" y="1455.4" font-size="8.4" fill="#000" text-anchor="start" font-weight="normal"  stroke="#000" stroke-width="0.12">480.0</text>
<text x="654.0" y="1444.1" font-size="8.4" fill="#000" text-anchor="start" font-weight="normal"  stroke="#000" stroke-width="0.12">500.0</text>
<text x="654.0" y="1432.8" font-size="8.4" fill="#000" text-anchor="start" font-weight="normal"  stroke="#000" stroke-width="0.12">520.0</text>
<text x="654.0" y="1421.4" font-size="8.4" fill="#000" text-anchor="start" font-weight="normal"  stroke="#000" stroke-width="0.12">540.0</text>
<text x="654.0" y="1410.1" font-size="8.4" fill="#000" text-anchor="start" font-weight="normal"  stroke="#000" stroke-width="0.12">560.0</text>
<text x="654.0" y="1398.8" font-size="8.4" fill="#000" text-anchor="start" font-weight="normal"  stroke="#000" stroke-width="0.12">580.0</text>
<text x="654.0" y="1387.5" font-size="8.4" fill="#000" text-anchor="start" font-weight="normal"  stroke="#000" stroke-width="0.12">600.0</text>
<text x="654.0" y="1376.1" font-size="8.4" fill="#000" text-anchor="start" font-weight="normal"  stroke="#000" stroke-width="0.12">620.0</text>
<text x="654.0" y="1364.8" font-size="8.4" fill="#000" text-anchor="start" font-weight="normal"  stroke="#000" stroke-width="0.12">640.0</text>
<text x="654.0" y="1353.5" font-size="8.4" fill="#000" text-anchor="start" font-weight="normal"  stroke="#000" stroke-width="0.12">660.0</text>
<text x="654.0" y="1342.1" font-size="8.4" fill="#000" text-anchor="start" font-weight="normal"  stroke="#000" stroke-width="0.12">680.0</text>
<text x="654.0" y="1330.8" font-size="8.4" fill="#000" text-anchor="start" font-weight="normal"  stroke="#000" stroke-width="0.12">700.0</text>
<text x="654.0" y="1319.5" font-size="8.4" fill="#000" text-anchor="start" font-weight="normal"  stroke="#000" stroke-width="0.12">720.0</text>
<text x="654.0" y="1308.1" font-size="8.4" fill="#000" text-anchor="start" font-weight="normal"  stroke="#000" stroke-width="0.12">740.0</text>
<text x="654.0" y="1296.8" font-size="8.4" fill="#000" text-anchor="start" font-weight="normal"  stroke="#000" stroke-width="0.12">760.0</text>
<text x="654.0" y="1285.5" font-size="8.4" fill="#000" text-anchor="start" font-weight="normal"  stroke="#000" stroke-width="0.12">780.0</text>
<text x="654.0" y="1274.2" font-size="8.4" fill="#000" text-anchor="start" font-weight="normal"  stroke="#000" stroke-width="0.12">800.0</text>
<text x="654.0" y="1262.8" font-size="8.4" fill="#000" text-anchor="start" font-weight="normal"  stroke="#000" stroke-width="0.12">820.0</text>
<text x="654.0" y="1251.5" font-size="8.4" fill="#000" text-anchor="start" font-weight="normal"  stroke="#000" stroke-width="0.12">840.0</text>
<text x="654.0" y="1240.2" font-size="8.4" fill="#000" text-anchor="start" font-weight="normal"  stroke="#000" stroke-width="0.12">860.0</text>
<text x="654.0" y="1228.8" font-size="8.4" fill="#000" text-anchor="start" font-weight="normal"  stroke="#000" stroke-width="0.12">880.0</text>
<text x="654.0" y="1217.5" font-size="8.4" fill="#000" text-anchor="start" font-weight="normal"  stroke="#000" stroke-width="0.12">900.0</text>
<text transform="translate(46.8,1562.0) rotate(-90)" font-size="8.6" text-anchor="end" stroke="#000" stroke-width="0.12">6月末</text>
<text transform="translate(65.9,1562.0) rotate(-90)" font-size="8.6" text-anchor="end" stroke="#000" stroke-width="0.12">7月末</text>
<text transform="translate(85.0,1562.0) rotate(-90)" font-size="8.6" text-anchor="end" stroke="#000" stroke-width="0.12">8月末</text>
<text transform="translate(104.1,1562.0) rotate(-90)" font-size="8.6" text-anchor="end" stroke="#000" stroke-width="0.12">9月末</text>
<text transform="translate(123.2,1562.0) rotate(-90)" font-size="8.6" text-anchor="end" stroke="#000" stroke-width="0.12">10月末</text>
<text transform="translate(142.3,1562.0) rotate(-90)" font-size="8.6" text-anchor="end" stroke="#000" stroke-width="0.12">11月末</text>
<text transform="translate(161.4,1562.0) rotate(-90)" font-size="8.6" text-anchor="end" stroke="#000" stroke-width="0.12">12月末</text>
<text transform="translate(180.5,1562.0) rotate(-90)" font-size="8.6" text-anchor="end" stroke="#000" stroke-width="0.12">1月末</text>
<text transform="translate(199.6,1562.0) rotate(-90)" font-size="8.6" text-anchor="end" stroke="#000" stroke-width="0.12">2月末</text>
<text transform="translate(218.7,1562.0) rotate(-90)" font-size="8.6" text-anchor="end" stroke="#000" stroke-width="0.12">3月末</text>
<text transform="translate(237.8,1562.0) rotate(-90)" font-size="8.6" text-anchor="end" stroke="#000" stroke-width="0.12">4月末</text>
<text transform="translate(257.0,1562.0) rotate(-90)" font-size="8.6" text-anchor="end" stroke="#000" stroke-width="0.12">5月末</text>
<text transform="translate(276.1,1562.0) rotate(-90)" font-size="8.6" text-anchor="end" stroke="#000" stroke-width="0.12">6月末</text>
<text transform="translate(295.2,1562.0) rotate(-90)" font-size="8.6" text-anchor="end" stroke="#000" stroke-width="0.12">7月1日</text>
<text transform="translate(314.3,1562.0) rotate(-90)" font-size="8.6" text-anchor="end" stroke="#000" stroke-width="0.12">7月2日</text>
<text transform="translate(333.4,1562.0) rotate(-90)" font-size="8.6" text-anchor="end" stroke="#000" stroke-width="0.12">7月5日</text>
<text transform="translate(352.5,1562.0) rotate(-90)" font-size="8.6" text-anchor="end" stroke="#000" stroke-width="0.12">7月6日</text>
<text transform="translate(371.6,1562.0) rotate(-90)" font-size="8.6" text-anchor="end" stroke="#000" stroke-width="0.12">7月7日</text>
<text transform="translate(390.7,1562.0) rotate(-90)" font-size="8.6" text-anchor="end" stroke="#000" stroke-width="0.12">7月8日</text>
<text transform="translate(409.8,1562.0) rotate(-90)" font-size="8.6" text-anchor="end" stroke="#000" stroke-width="0.12">7月9日</text>
<text transform="translate(428.9,1562.0) rotate(-90)" font-size="8.6" text-anchor="end" stroke="#000" stroke-width="0.12">7月12日</text>
<text transform="translate(448.1,1562.0) rotate(-90)" font-size="8.6" text-anchor="end" stroke="#000" stroke-width="0.12">7月13日</text>
<text transform="translate(467.2,1562.0) rotate(-90)" font-size="8.6" text-anchor="end" stroke="#000" stroke-width="0.12">7月14日</text>
<text transform="translate(486.3,1562.0) rotate(-90)" font-size="8.6" text-anchor="end" stroke="#000" stroke-width="0.12">7月15日</text>
<text transform="translate(505.4,1562.0) rotate(-90)" font-size="8.6" text-anchor="end" stroke="#000" stroke-width="0.12">7月16日</text>
<text transform="translate(524.5,1562.0) rotate(-90)" font-size="8.6" text-anchor="end" stroke="#000" stroke-width="0.12">7月19日</text>
<text transform="translate(543.6,1562.0) rotate(-90)" font-size="8.6" text-anchor="end" stroke="#000" stroke-width="0.12">7月20日</text>
<text transform="translate(562.7,1562.0) rotate(-90)" font-size="8.6" text-anchor="end" stroke="#000" stroke-width="0.12">7月21日</text>
<text transform="translate(581.8,1562.0) rotate(-90)" font-size="8.6" text-anchor="end" stroke="#000" stroke-width="0.12">7月22日</text>
<text transform="translate(600.9,1562.0) rotate(-90)" font-size="8.6" text-anchor="end" stroke="#000" stroke-width="0.12">7月23日</text>
<text transform="translate(620.0,1562.0) rotate(-90)" font-size="8.6" text-anchor="end" stroke="#000" stroke-width="0.12">7月26日</text>
<text transform="translate(639.1,1562.0) rotate(-90)" font-size="8.6" text-anchor="end" stroke="#000" stroke-width="0.12">7月27日</text>
<text x="101.3" y="1609.0" font-size="8.6" fill="#000" text-anchor="middle" font-weight="normal"  stroke="#000" stroke-width="0.12">2020年</text>
<text x="406.5" y="1609.0" font-size="8.6" fill="#000" text-anchor="middle" font-weight="normal"  stroke="#000" stroke-width="0.12">2021年</text>
<path d="M43.8 1517.0L62.9 1498.7L82.0 1473.7L101.1 1480.2L120.2 1486.1L139.3 1461.5L158.4 1403.2L177.5 1405.6L196.6 1374.4L215.7 1392.2L234.8 1348.2L254.0 1326.0L273.1 1287.4L292.2 1284.5L311.3 1283.7L330.4 1277.4L349.5 1276.0L368.6 1275.8L387.7 1284.5L406.8 1291.6L425.9 1287.1L445.1 1283.9L464.2 1286.9L483.3 1285.1L502.4 1282.9L521.5 1285.1L540.6 1285.4L559.7 1294.6L578.8 1311.2L597.9 1313.6L617.0 1311.2L636.1 1315.2" stroke="#4a7ebb" stroke-width="2.6" fill="none" stroke-linejoin="round"/>
<path d="M40.4 1517.0L43.8 1513.6L47.2 1517.0L43.8 1520.4Z" fill="#4a7ebb"/><path d="M59.5 1498.7L62.9 1495.3L66.3 1498.7L62.9 1502.1Z" fill="#4a7ebb"/><path d="M78.6 1473.7L82.0 1470.3L85.4 1473.7L82.0 1477.1Z" fill="#4a7ebb"/><path d="M97.7 1480.2L101.1 1476.8L104.5 1480.2L101.1 1483.6Z" fill="#4a7ebb"/><path d="M116.8 1486.1L120.2 1482.7L123.6 1486.1L120.2 1489.5Z" fill="#4a7ebb"/><path d="M135.9 1461.5L139.3 1458.1L142.7 1461.5L139.3 1464.9Z" fill="#4a7ebb"/><path d="M155.0 1403.2L158.4 1399.8L161.8 1403.2L158.4 1406.6Z" fill="#4a7ebb"/><path d="M174.1 1405.6L177.5 1402.2L180.9 1405.6L177.5 1409.0Z" fill="#4a7ebb"/><path d="M193.2 1374.4L196.6 1371.0L200.0 1374.4L196.6 1377.8Z" fill="#4a7ebb"/><path d="M212.3 1392.2L215.7 1388.8L219.1 1392.2L215.7 1395.6Z" fill="#4a7ebb"/><path d="M231.4 1348.2L234.8 1344.8L238.2 1348.2L234.8 1351.6Z" fill="#4a7ebb"/><path d="M250.6 1326.0L254.0 1322.6L257.4 1326.0L254.0 1329.4Z" fill="#4a7ebb"/><path d="M269.7 1287.4L273.1 1284.0L276.5 1287.4L273.1 1290.8Z" fill="#4a7ebb"/><path d="M288.8 1284.5L292.2 1281.1L295.6 1284.5L292.2 1287.9Z" fill="#4a7ebb"/><path d="M307.9 1283.7L311.3 1280.3L314.7 1283.7L311.3 1287.1Z" fill="#4a7ebb"/><path d="M327.0 1277.4L330.4 1274.0L333.8 1277.4L330.4 1280.8Z" fill="#4a7ebb"/><path d="M346.1 1276.0L349.5 1272.6L352.9 1276.0L349.5 1279.4Z" fill="#4a7ebb"/><path d="M365.2 1275.8L368.6 1272.4L372.0 1275.8L368.6 1279.2Z" fill="#4a7ebb"/><path d="M384.3 1284.5L387.7 1281.1L391.1 1284.5L387.7 1287.9Z" fill="#4a7ebb"/><path d="M403.4 1291.6L406.8 1288.2L410.2 1291.6L406.8 1295.0Z" fill="#4a7ebb"/><path d="M422.5 1287.1L425.9 1283.7L429.3 1287.1L425.9 1290.5Z" fill="#4a7ebb"/><path d="M441.7 1283.9L445.1 1280.5L448.5 1283.9L445.1 1287.3Z" fill="#4a7ebb"/><path d="M460.8 1286.9L464.2 1283.5L467.6 1286.9L464.2 1290.3Z" fill="#4a7ebb"/><path d="M479.9 1285.1L483.3 1281.7L486.7 1285.1L483.3 1288.5Z" fill="#4a7ebb"/><path d="M499.0 1282.9L502.4 1279.5L505.8 1282.9L502.4 1286.3Z" fill="#4a7ebb"/><path d="M518.1 1285.1L521.5 1281.7L524.9 1285.1L521.5 1288.5Z" fill="#4a7ebb"/><path d="M537.2 1285.4L540.6 1282.0L544.0 1285.4L540.6 1288.8Z" fill="#4a7ebb"/><path d="M556.3 1294.6L559.7 1291.2L563.1 1294.6L559.7 1298.0Z" fill="#4a7ebb"/><path d="M575.4 1311.2L578.8 1307.8L582.2 1311.2L578.8 1314.6Z" fill="#4a7ebb"/><path d="M594.5 1313.6L597.9 1310.2L601.3 1313.6L597.9 1317.0Z" fill="#4a7ebb"/><path d="M613.6 1311.2L617.0 1307.8L620.4 1311.2L617.0 1314.6Z" fill="#4a7ebb"/><path d="M632.7 1315.2L636.1 1311.8L639.5 1315.2L636.1 1318.6Z" fill="#4a7ebb"/>
<path d="M43.8 1526.3L62.9 1521.2L82.0 1511.1L101.1 1514.6L120.2 1513.9L139.3 1509.5L158.4 1475.3L177.5 1455.0L196.6 1447.5L215.7 1451.0L234.8 1427.5L254.0 1400.9L273.1 1389.2L292.2 1388.5L311.3 1388.7L330.4 1383.7L349.5 1381.6L368.6 1381.1L387.7 1382.1L406.8 1380.8L425.9 1380.8L445.1 1379.7L464.2 1379.6L483.3 1379.7L502.4 1378.3L521.5 1382.2L540.6 1381.1L559.7 1376.9L578.8 1376.9L597.9 1377.8L617.0 1378.3L636.1 1379.2" stroke="#be4b48" stroke-width="2.6" fill="none" stroke-linejoin="round"/>
<rect x="40.8" y="1523.3" width="6.0" height="6.0" fill="#be4b48"/><rect x="59.9" y="1518.2" width="6.0" height="6.0" fill="#be4b48"/><rect x="79.0" y="1508.1" width="6.0" height="6.0" fill="#be4b48"/><rect x="98.1" y="1511.6" width="6.0" height="6.0" fill="#be4b48"/><rect x="117.2" y="1510.9" width="6.0" height="6.0" fill="#be4b48"/><rect x="136.3" y="1506.5" width="6.0" height="6.0" fill="#be4b48"/><rect x="155.4" y="1472.3" width="6.0" height="6.0" fill="#be4b48"/><rect x="174.5" y="1452.0" width="6.0" height="6.0" fill="#be4b48"/><rect x="193.6" y="1444.5" width="6.0" height="6.0" fill="#be4b48"/><rect x="212.7" y="1448.0" width="6.0" height="6.0" fill="#be4b48"/><rect x="231.8" y="1424.5" width="6.0" height="6.0" fill="#be4b48"/><rect x="251.0" y="1397.9" width="6.0" height="6.0" fill="#be4b48"/><rect x="270.1" y="1386.2" width="6.0" height="6.0" fill="#be4b48"/><rect x="289.2" y="1385.5" width="6.0" height="6.0" fill="#be4b48"/><rect x="308.3" y="1385.7" width="6.0" height="6.0" fill="#be4b48"/><rect x="327.4" y="1380.7" width="6.0" height="6.0" fill="#be4b48"/><rect x="346.5" y="1378.6" width="6.0" height="6.0" fill="#be4b48"/><rect x="365.6" y="1378.1" width="6.0" height="6.0" fill="#be4b48"/><rect x="384.7" y="1379.1" width="6.0" height="6.0" fill="#be4b48"/><rect x="403.8" y="1377.8" width="6.0" height="6.0" fill="#be4b48"/><rect x="422.9" y="1377.8" width="6.0" height="6.0" fill="#be4b48"/><rect x="442.1" y="1376.7" width="6.0" height="6.0" fill="#be4b48"/><rect x="461.2" y="1376.6" width="6.0" height="6.0" fill="#be4b48"/><rect x="480.3" y="1376.7" width="6.0" height="6.0" fill="#be4b48"/><rect x="499.4" y="1375.3" width="6.0" height="6.0" fill="#be4b48"/><rect x="518.5" y="1379.2" width="6.0" height="6.0" fill="#be4b48"/><rect x="537.6" y="1378.1" width="6.0" height="6.0" fill="#be4b48"/><rect x="556.7" y="1373.9" width="6.0" height="6.0" fill="#be4b48"/><rect x="575.8" y="1373.9" width="6.0" height="6.0" fill="#be4b48"/><rect x="594.9" y="1374.8" width="6.0" height="6.0" fill="#be4b48"/><rect x="614.0" y="1375.3" width="6.0" height="6.0" fill="#be4b48"/><rect x="633.1" y="1376.2" width="6.0" height="6.0" fill="#be4b48"/>
<path d="M43.8 1515.8L62.9 1494.7L82.0 1466.7L101.1 1473.7L120.2 1481.2L139.3 1453.3L158.4 1390.4L177.5 1397.4L196.6 1361.1L215.7 1382.9L234.8 1333.0L254.0 1312.7L273.1 1269.9L292.2 1265.3L311.3 1265.3L330.4 1258.2L349.5 1256.1L368.6 1255.0L387.7 1267.9L406.8 1275.8L425.9 1269.5L445.1 1266.7L464.2 1269.1L483.3 1267.0L502.4 1264.5L521.5 1266.0L540.6 1267.6L559.7 1279.0L578.8 1298.9L597.9 1301.4L617.0 1298.9L636.1 1302.3" stroke="#9bbb59" stroke-width="2.6" fill="none" stroke-linejoin="round"/>
<path d="M43.8 1512.0L47.9 1518.8L39.6 1518.8Z" fill="#9bbb59"/><path d="M62.9 1490.9L67.0 1497.7L58.7 1497.7Z" fill="#9bbb59"/><path d="M82.0 1462.9L86.2 1469.7L77.8 1469.7Z" fill="#9bbb59"/><path d="M101.1 1469.9L105.3 1476.7L96.9 1476.7Z" fill="#9bbb59"/><path d="M120.2 1477.4L124.4 1484.2L116.0 1484.2Z" fill="#9bbb59"/><path d="M139.3 1449.5L143.5 1456.3L135.1 1456.3Z" fill="#9bbb59"/><path d="M158.4 1386.6L162.6 1393.4L154.2 1393.4Z" fill="#9bbb59"/><path d="M177.5 1393.6L181.7 1400.4L173.3 1400.4Z" fill="#9bbb59"/><path d="M196.6 1357.3L200.8 1364.1L192.4 1364.1Z" fill="#9bbb59"/><path d="M215.7 1379.1L219.9 1385.9L211.6 1385.9Z" fill="#9bbb59"/><path d="M234.8 1329.2L239.0 1336.0L230.7 1336.0Z" fill="#9bbb59"/><path d="M254.0 1308.9L258.1 1315.7L249.8 1315.7Z" fill="#9bbb59"/><path d="M273.1 1266.1L277.2 1272.9L268.9 1272.9Z" fill="#9bbb59"/><path d="M292.2 1261.5L296.4 1268.3L288.0 1268.3Z" fill="#9bbb59"/><path d="M311.3 1261.5L315.5 1268.3L307.1 1268.3Z" fill="#9bbb59"/><path d="M330.4 1254.4L334.6 1261.2L326.2 1261.2Z" fill="#9bbb59"/><path d="M349.5 1252.3L353.7 1259.1L345.3 1259.1Z" fill="#9bbb59"/><path d="M368.6 1251.2L372.8 1258.0L364.4 1258.0Z" fill="#9bbb59"/><path d="M387.7 1264.1L391.9 1270.9L383.5 1270.9Z" fill="#9bbb59"/><path d="M406.8 1272.0L411.0 1278.8L402.7 1278.8Z" fill="#9bbb59"/><path d="M425.9 1265.7L430.1 1272.5L421.8 1272.5Z" fill="#9bbb59"/><path d="M445.1 1262.9L449.2 1269.7L440.9 1269.7Z" fill="#9bbb59"/><path d="M464.2 1265.3L468.3 1272.1L460.0 1272.1Z" fill="#9bbb59"/><path d="M483.3 1263.2L487.5 1270.0L479.1 1270.0Z" fill="#9bbb59"/><path d="M502.4 1260.7L506.6 1267.5L498.2 1267.5Z" fill="#9bbb59"/><path d="M521.5 1262.2L525.7 1269.0L517.3 1269.0Z" fill="#9bbb59"/><path d="M540.6 1263.8L544.8 1270.6L536.4 1270.6Z" fill="#9bbb59"/><path d="M559.7 1275.2L563.9 1282.0L555.5 1282.0Z" fill="#9bbb59"/><path d="M578.8 1295.1L583.0 1301.9L574.6 1301.9Z" fill="#9bbb59"/><path d="M597.9 1297.6L602.1 1304.4L593.7 1304.4Z" fill="#9bbb59"/><path d="M617.0 1295.1L621.2 1301.9L612.9 1301.9Z" fill="#9bbb59"/><path d="M636.1 1298.5L640.3 1305.3L632.0 1305.3Z" fill="#9bbb59"/>
<text x="38.5" y="1524.2" font-size="8.8" fill="#0070c0" text-anchor="middle" font-weight="normal" stroke="#0070c0" stroke-width="0.25">364.56</text>
<text x="144.0" y="1471.6" font-size="8.8" fill="#0070c0" text-anchor="middle" font-weight="normal" stroke="#0070c0" stroke-width="0.25">465.15</text>
<text x="185.8" y="1418.6" font-size="8.8" fill="#0070c0" text-anchor="middle" font-weight="normal" stroke="#0070c0" stroke-width="0.25">562.45</text>
<text x="276.0" y="1328.6" font-size="8.8" fill="#0070c0" text-anchor="middle" font-weight="normal" stroke="#0070c0" stroke-width="0.25">704.04</text>
<text x="282.0" y="1300.6" font-size="8.8" fill="#0070c0" text-anchor="middle" font-weight="normal" stroke="#0070c0" stroke-width="0.25">771.62</text>
<text x="312.2" y="1293.1" font-size="8.8" fill="#0070c0" text-anchor="middle" font-weight="normal" stroke="#0070c0" stroke-width="0.25">777.90</text>
<text x="336.0" y="1291.6" font-size="8.8" fill="#0070c0" text-anchor="middle" font-weight="normal" stroke="#0070c0" stroke-width="0.25">788.72</text>
<text x="364.2" y="1291.6" font-size="8.8" fill="#0070c0" text-anchor="middle" font-weight="normal" stroke="#0070c0" stroke-width="0.25">793.21</text>
<text x="443.5" y="1301.0" font-size="8.8" fill="#0070c0" text-anchor="middle" font-weight="normal" stroke="#0070c0" stroke-width="0.25">777.51</text>
<text x="523.0" y="1298.4" font-size="8.8" fill="#0070c0" text-anchor="middle" font-weight="normal" stroke="#0070c0" stroke-width="0.25">776.65</text>
<text x="623.5" y="1328.6" font-size="8.8" fill="#0070c0" text-anchor="middle" font-weight="normal" stroke="#0070c0" stroke-width="0.25">723.90</text>
<text x="43.0" y="1510.2" font-size="8.8" fill="#00b050" text-anchor="middle" font-weight="normal" stroke="#00b050" stroke-width="0.25">367.16</text>
<text x="145.5" y="1448.2" font-size="8.8" fill="#00b050" text-anchor="middle" font-weight="normal" stroke="#00b050" stroke-width="0.25">481.53</text>
<text x="179.5" y="1391.8" font-size="8.8" fill="#00b050" text-anchor="middle" font-weight="normal" stroke="#00b050" stroke-width="0.25">578.71</text>
<text x="256.0" y="1308.3" font-size="8.8" fill="#00b050" text-anchor="middle" font-weight="normal" stroke="#00b050" stroke-width="0.25">729.00</text>
<text x="271.6" y="1264.3" font-size="8.8" fill="#00b050" text-anchor="middle" font-weight="normal" stroke="#00b050" stroke-width="0.25">805.44</text>
<text x="311.0" y="1257.6" font-size="8.8" fill="#00b050" text-anchor="middle" font-weight="normal" stroke="#00b050" stroke-width="0.25">812.71</text>
<text x="329.0" y="1248.4" font-size="8.8" fill="#00b050" text-anchor="middle" font-weight="normal" stroke="#00b050" stroke-width="0.25">824.10</text>
<text x="369.2" y="1248.4" font-size="8.8" fill="#00b050" text-anchor="middle" font-weight="normal" stroke="#00b050" stroke-width="0.25">828.45</text>
<text x="450.7" y="1257.1" font-size="8.8" fill="#00b050" text-anchor="middle" font-weight="normal" stroke="#00b050" stroke-width="0.25">809.38</text>
<text x="525.2" y="1254.2" font-size="8.8" fill="#00b050" text-anchor="middle" font-weight="normal" stroke="#00b050" stroke-width="0.25">809.33</text>
<text x="628.8" y="1290.8" font-size="8.8" fill="#00b050" text-anchor="middle" font-weight="normal" stroke="#00b050" stroke-width="0.25">745.45</text>
<text x="47.8" y="1518.9" font-size="8.8" fill="#d42a2a" text-anchor="middle" font-weight="normal" stroke="#d42a2a" stroke-width="0.25">349.55</text>
<text x="127.5" y="1499.6" font-size="8.8" fill="#d42a2a" text-anchor="middle" font-weight="normal" stroke="#d42a2a" stroke-width="0.25">378.56</text>
<text x="188.0" y="1469.3" font-size="8.8" fill="#d42a2a" text-anchor="middle" font-weight="normal" stroke="#d42a2a" stroke-width="0.25">476.42</text>
<text x="268.6" y="1385.5" font-size="8.8" fill="#d42a2a" text-anchor="middle" font-weight="normal" stroke="#d42a2a" stroke-width="0.25">592.71</text>
<text x="306.0" y="1380.2" font-size="8.8" fill="#d42a2a" text-anchor="middle" font-weight="normal" stroke="#d42a2a" stroke-width="0.25">593.80</text>
<text x="336.6" y="1375.8" font-size="8.8" fill="#d42a2a" text-anchor="middle" font-weight="normal" stroke="#d42a2a" stroke-width="0.25">601.62</text>
<text x="362.6" y="1394.2" font-size="8.8" fill="#d42a2a" text-anchor="middle" font-weight="normal" stroke="#d42a2a" stroke-width="0.25">606.80</text>
<text x="443.4" y="1397.3" font-size="8.8" fill="#d42a2a" text-anchor="middle" font-weight="normal" stroke="#d42a2a" stroke-width="0.25">608.98</text>
<text x="521.8" y="1396.5" font-size="8.8" fill="#d42a2a" text-anchor="middle" font-weight="normal" stroke="#d42a2a" stroke-width="0.25">603.81</text>
<text x="627.6" y="1394.8" font-size="8.8" fill="#d42a2a" text-anchor="middle" font-weight="normal" stroke="#d42a2a" stroke-width="0.25">609.90</text>
<text x="333.5" y="1177.5" font-size="12.8" fill="#000" text-anchor="middle" font-weight="bold" >中国铁矿石价格指数走势图</text>
<text x="663.4" y="1189.6" font-size="9" fill="#000" text-anchor="middle" font-weight="normal"  stroke="#000" stroke-width="0.12">点</text>
<path d="M97.7 1200.2H116.4" stroke="#4a7ebb" stroke-width="2.6"/><path d="M104.0 1200.2L107.0 1197.2L110.0 1200.2L107.0 1203.2Z" fill="#4a7ebb"/>
<text x="118.5" y="1203.3" font-size="9" fill="#000" text-anchor="start" font-weight="normal" letter-spacing="0.3" stroke="#000" stroke-width="0.12">CIOPI中国铁矿石价格指数</text>
<path d="M251.7 1199.4H270" stroke="#be4b48" stroke-width="2.6"/><rect x="258.2" y="1196.6" width="5.6" height="5.6" fill="#be4b48"/>
<text x="271.6" y="1202.5" font-size="9" fill="#000" text-anchor="start" font-weight="normal" letter-spacing="0.3" stroke="#000" stroke-width="0.12">国产铁矿石价格指数</text>
<path d="M384.2 1199.8H403.4" stroke="#9bbb59" stroke-width="2.6"/><path d="M394.0 1196.8L397.3 1202.2L390.7 1202.2Z" fill="#9bbb59"/>
<text x="404.6" y="1202.9" font-size="9" fill="#000" text-anchor="start" font-weight="normal" letter-spacing="0.3" stroke="#000" stroke-width="0.12">进口铁矿石价格指数</text>
</svg>
</body></html>
